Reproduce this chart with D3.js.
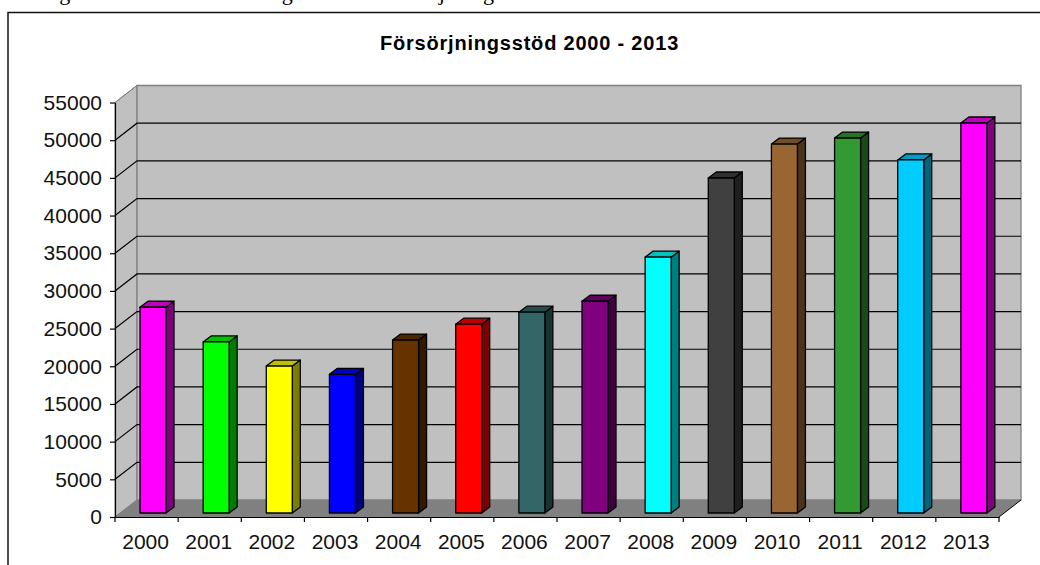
<!DOCTYPE html>
<html>
<head>
  <meta charset="utf-8">
  <title>Försörjningsstöd 2000 - 2013</title>
  <script src="https://d3js.org/d3.v7.min.js"></script>
  <style>
    html, body { margin: 0; padding: 0; background: #fff; }
    svg { display: block; }
    .axis text { font: 21px "Liberation Sans", sans-serif; fill: #111; }
    .axis path, .axis line { stroke: #000; stroke-width: 1.2; }
  </style>
</head>
<body>
  <svg id="chart" width="1040" height="565"></svg>
  <script>
    const years = ["2000","2001","2002","2003","2004","2005","2006","2007","2008","2009","2010","2011","2012","2013"];
    const values = [27300,22700,19500,18400,22950,25050,26650,28100,33950,44450,48950,49750,46850,51750];
    const barColors = ["#ff00ff","#00ff00","#ffff00","#0000ff","#663300","#ff0000","#336666","#800080","#00ffff","#404040","#996633","#339933","#00ccff","#ff00ff"];
    const yTicks = d3.range(0, 55001, 5000);

    const svg = d3.select("#chart");

    // front plane of the 3d box
    const x0 = 115, x1 = 999, y0 = 517, yTop = 102.5;
    const wallDx = 22, wallDy = -17;   // depth of walls
    const barDx = 8, barDy = -6;       // depth of bars

    const x = d3.scaleBand().domain(years).range([x0, x1]);
    const y = d3.scaleLinear().domain([0, 55000]).range([y0, yTop]);

    // page caption cut off by the crop, only the descenders show
    svg.append("text")
      .attr("x", 20).attr("y", -0.5)
      .attr("font-family", "Liberation Serif, serif")
      .attr("font-size", 22)
      .attr("letter-spacing", 2.5)
      .attr("word-spacing", 6)
      .attr("fill", "#000")
      .text("Diagram 4. Utbetalningar av försörjningsstöd mellan 2000 - 2013");

    // frame
    svg.append("path")
      .attr("d", "M8 565V12.5H1040")
      .attr("fill", "none")
      .attr("stroke", "#111")
      .attr("stroke-width", 1.5);

    svg.append("text")
      .attr("x", 529.5).attr("y", 50)
      .attr("text-anchor", "middle")
      .attr("font-family", "Liberation Sans, sans-serif")
      .attr("font-size", 20)
      .attr("letter-spacing", 0.8)
      .attr("font-weight", "bold")
      .attr("fill", "#000")
      .text("Försörjningsstöd 2000 - 2013");

    // side wall, back wall, floor
    const line = d3.line();
    svg.append("path")
      .attr("d", line([[x0, y0], [x0 + wallDx, y0 + wallDy], [x0 + wallDx, yTop + wallDy], [x0, yTop]]) + "Z")
      .attr("fill", "#c0c0c0").attr("stroke", "#808080");
    svg.append("path")
      .attr("d", line([[x0 + wallDx, y0 + wallDy], [x1 + wallDx, y0 + wallDy], [x1 + wallDx, yTop + wallDy], [x0 + wallDx, yTop + wallDy]]) + "Z")
      .attr("fill", "#c0c0c0").attr("stroke", "#808080").attr("stroke-width", 1.3);
    svg.append("path")
      .attr("d", line([[x0, y0], [x1, y0], [x1 + wallDx, y0 + wallDy], [x0 + wallDx, y0 + wallDy]]) + "Z")
      .attr("fill", "#808080").attr("stroke", "none");

    // gridlines
    svg.append("g").selectAll("path")
      .data(yTicks.slice(1, -1))
      .join("path")
      .attr("d", d => line([[x0, y(d)], [x0 + wallDx, y(d) + wallDy], [x1 + wallDx, y(d) + wallDy]]))
      .attr("fill", "none")
      .attr("stroke", "#000")
      .attr("stroke-width", 1.2);
    svg.append("path")
      .attr("d", line([[x0, y0], [x0 + wallDx, y0 + wallDy]]))
      .attr("stroke", "#808080");
    svg.append("path")
      .attr("d", line([[x0, yTop], [x0 + wallDx, yTop + wallDy]]))
      .attr("stroke", "#808080");
    svg.append("path")
      .attr("d", line([[x1, y0], [x1 + wallDx, y0 + wallDy]]))
      .attr("stroke", "#000");

    // bars
    const barW = 26, barOffset = 25, lift = 4;
    const bars = svg.append("g").selectAll("g")
      .data(years.map((year, i) => ({ year, value: values[i], color: barColors[i] })))
      .join("g")
      .attr("stroke", "#000")
      .attr("stroke-width", 1.3)
      .attr("stroke-linejoin", "round");

    const bx = d => x(d.year) + barOffset;
    const barTop = d => y(d.value) - lift;
    const barBottom = y0 - lift;

    bars.append("path")  // side
      .attr("d", d => line([[bx(d) + barW, barTop(d)], [bx(d) + barW + barDx, barTop(d) + barDy], [bx(d) + barW + barDx, barBottom + barDy], [bx(d) + barW, barBottom]]) + "Z")
      .attr("fill", d => d3.rgb(d.color).darker(2).formatHex());
    bars.append("path")  // top
      .attr("d", d => line([[bx(d), barTop(d)], [bx(d) + barDx, barTop(d) + barDy], [bx(d) + barW + barDx, barTop(d) + barDy], [bx(d) + barW, barTop(d)]]) + "Z")
      .attr("fill", d => d3.rgb(d.color).darker(0.8).formatHex());
    bars.append("rect")  // front
      .attr("x", bx)
      .attr("y", barTop)
      .attr("width", barW)
      .attr("height", d => barBottom - barTop(d))
      .attr("fill", d => d.color);

    // axes
    svg.append("g")
      .attr("class", "axis")
      .attr("transform", `translate(${x0},0)`)
      .call(d3.axisLeft(y).tickValues(yTicks).tickFormat(d3.format("d")).tickSize(5).tickPadding(8).tickSizeOuter(0));

    const xAxis = svg.append("g")
      .attr("class", "axis")
      .attr("transform", `translate(0,${y0})`)
      .call(d3.axisBottom(x).tickSize(0).tickPadding(17).tickSizeOuter(0));

    xAxis.selectAll(".tick text").attr("dx", -1);

    xAxis.append("g").selectAll("line")
      .data(years.concat(["end"]))
      .join("line")
      .attr("x1", (d, i) => x0 + i * x.step())
      .attr("x2", (d, i) => x0 + i * x.step())
      .attr("y1", 0).attr("y2", 5);
  </script>
</body>
</html>
